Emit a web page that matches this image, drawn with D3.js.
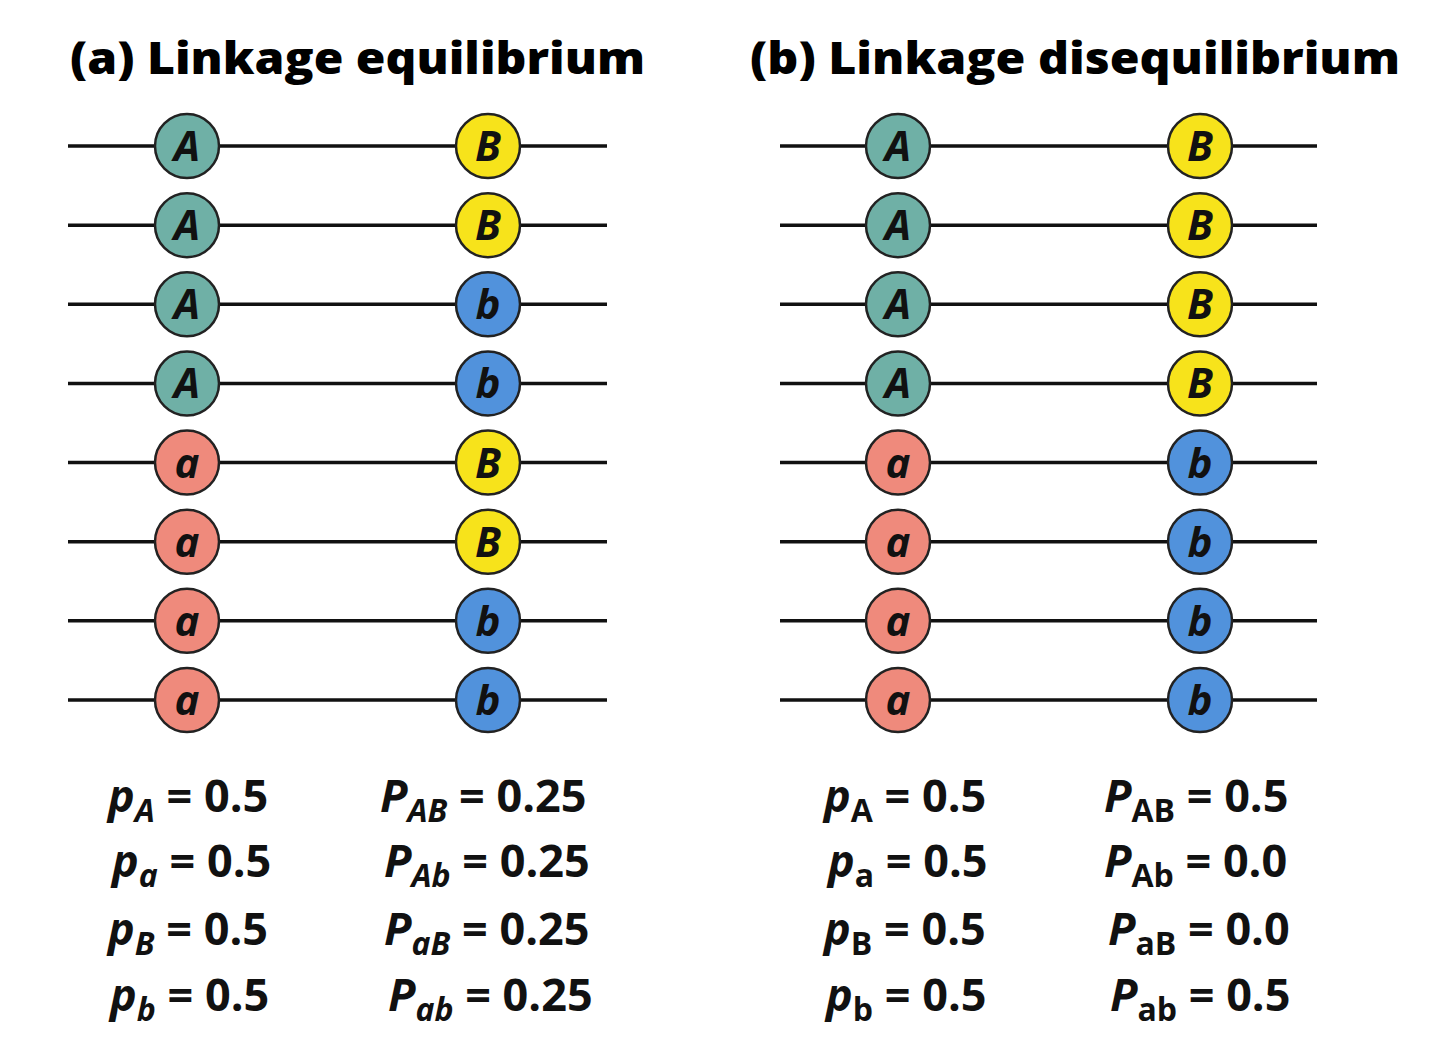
<!DOCTYPE html>
<html><head><meta charset="utf-8">
<script src="https://cdn.jsdelivr.net/npm/d3@7"></script>
<style>body{margin:0;background:#fff}</style>
</head><body><div id="vis"></div>
<script>
// data
const titles = ["(a) Linkage equilibrium", "(b) Linkage disequilibrium"];
const locus1 = [
  ["A","A","A","A","a","a","a","a"],
  ["A","A","A","A","a","a","a","a"]
];
const locus2 = [
  ["B","B","b","b","B","B","b","b"],
  ["B","B","B","B","b","b","b","b"]
];
const alleleFreqs = [
  [["p","A","0.5"],["p","a","0.5"],["p","B","0.5"],["p","b","0.5"]],
  [["p","A","0.5"],["p","a","0.5"],["p","B","0.5"],["p","b","0.5"]]
];
const haploFreqs = [
  [["P","AB","0.25"],["P","Ab","0.25"],["P","aB","0.25"],["P","ab","0.25"]],
  [["P","AB","0.5"],["P","Ab","0.0"],["P","aB","0.0"],["P","ab","0.5"]]
];

const colors = {A:"#6fb0a6", a:"#ef8a7c", B:"#f7e31b", b:"#5192dc"};
const FONT = "'Open Sans', 'Noto Sans', sans-serif";

const svg = d3.select("#vis").append("svg").attr("width",1440).attr("height",1045);

// panel geometry
const panels = [
  {x0:68, x1:607, c1:187, c2:488, tx:70, tw:575, fx1:[108,112,108,110], fx2:[380,384,384,388], italicSub:true},
  {x0:780, x1:1317, c1:898, c2:1200, tx:750, tw:650, fx1:[824,828,824,826], fx2:[1104,1104,1108,1110], italicSub:false}
];
const y = d3.scalePoint().domain(d3.range(8)).range([146,700]);
const yF = d3.scaleOrdinal().domain([0,1,2,3]).range([812,877,945,1011]);

panels.forEach((p,i) => {
  const g = svg.append("g");
  g.append("text").attr("x",p.tx).attr("y",74)
    .attr("font-family",FONT).attr("font-weight",800).attr("font-size",45)
    .attr("textLength",p.tw).attr("lengthAdjust","spacingAndGlyphs")
    .text(titles[i]);

  const rows = g.selectAll("g.row").data(d3.range(8)).enter().append("g")
    .attr("transform", d => `translate(0,${y(d)})`);
  rows.append("line").attr("x1",p.x0).attr("x2",p.x1)
    .attr("stroke","#111").attr("stroke-width",3.5);
  [[p.c1,locus1[i]],[p.c2,locus2[i]]].forEach(([cx,al]) => {
    rows.append("circle").attr("cx",cx).attr("r",32)
      .attr("fill",d => colors[al[d]]).attr("stroke","#222").attr("stroke-width",2.5);
    rows.append("text").attr("x",cx).attr("y",15).attr("text-anchor","middle")
      .attr("font-family",FONT).attr("font-weight",700).attr("font-style","italic")
      .attr("font-size",42).attr("fill","#111").text(d => al[d]);
  });

  function formula(data, xs) {
    data.forEach((f,k) => {
      const t = g.append("text").attr("x",xs[k]).attr("y",yF(k))
        .attr("font-family",FONT).attr("font-weight",700).attr("font-size",45).attr("fill","#111");
      t.append("tspan").attr("font-style","italic").text(f[0]);
      t.append("tspan").attr("font-size",32).attr("dy",10)
        .attr("font-style",p.italicSub ? "italic" : "normal").text(f[1]);
      t.append("tspan").attr("dy",-10).text(" = " + f[2]);
    });
  }
  formula(alleleFreqs[i], p.fx1);
  formula(haploFreqs[i], p.fx2);
});
</script></body></html>
